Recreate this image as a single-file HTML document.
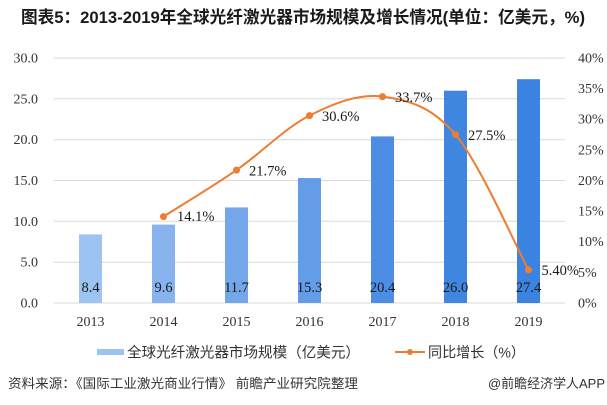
<!DOCTYPE html>
<html><head><meta charset="utf-8"><style>
html,body{margin:0;padding:0;background:#fff;}
svg{display:block;}
</style></head><body>
<svg width="607" height="405" viewBox="0 0 607 405" xmlns="http://www.w3.org/2000/svg">
<rect width="607" height="405" fill="#fff"/>
<text x="21" y="23" font-family="Liberation Sans, Noto Sans CJK SC, sans-serif" font-weight="bold" font-size="17" fill="#1a1a1a" textLength="564" lengthAdjust="spacingAndGlyphs">图表5：2013-2019年全球光纤激光器市场规模及增长情况(单位：亿美元，%)</text>
<g stroke="#d9d9d9" stroke-width="1">
<line x1="54" y1="58" x2="565" y2="58"/>
<line x1="54" y1="98.8" x2="565" y2="98.8"/>
<line x1="54" y1="139.7" x2="565" y2="139.7"/>
<line x1="54" y1="180.5" x2="565" y2="180.5"/>
<line x1="54" y1="221.3" x2="565" y2="221.3"/>
<line x1="54" y1="262.2" x2="565" y2="262.2"/>
<line x1="54" y1="303" x2="565" y2="303"/>
</g>
<g font-family="Liberation Serif, serif" font-size="14" fill="#333" text-anchor="end">
<text x="38" y="62.5">30.0</text>
<text x="38" y="103.3">25.0</text>
<text x="38" y="144.2">20.0</text>
<text x="38" y="185">15.0</text>
<text x="38" y="225.8">10.0</text>
<text x="38" y="266.7">5.0</text>
<text x="38" y="307.5">0.0</text>
</g>
<g font-family="Liberation Serif, serif" font-size="14" fill="#333">
<text x="578" y="62.5">40%</text>
<text x="578" y="93.1">35%</text>
<text x="578" y="123.7">30%</text>
<text x="578" y="154.4">25%</text>
<text x="578" y="185">20%</text>
<text x="578" y="215.6">15%</text>
<text x="578" y="246.2">10%</text>
<text x="578" y="276.9">5%</text>
<text x="578" y="307.5">0%</text>
</g>
<rect x="79" y="234.4" width="23" height="68.6" fill="#9dc3f3"/>
<rect x="152" y="224.6" width="23" height="78.4" fill="#88b3ee"/>
<rect x="225" y="207.45" width="23" height="95.55" fill="#74a6ea"/>
<rect x="298" y="178.05" width="23" height="124.95" fill="#639ce7"/>
<rect x="371" y="136.4" width="23" height="166.6" fill="#4d8ee4"/>
<rect x="444" y="90.7" width="23" height="212.3" fill="#3f86e1"/>
<rect x="517" y="79.2" width="23" height="223.8" fill="#3b83e0"/>
<g font-family="Liberation Serif, serif" font-size="14.5" fill="#1a1a1a" text-anchor="middle">
<text x="90.5" y="292">8.4</text>
<text x="163.5" y="292">9.6</text>
<text x="236.5" y="292">11.7</text>
<text x="309.5" y="292">15.3</text>
<text x="382.5" y="292">20.4</text>
<text x="455.5" y="292">26.0</text>
<text x="528.5" y="292">27.4</text>
</g>
<g font-family="Liberation Serif, serif" font-size="14" fill="#333" text-anchor="middle">
<text x="90.5" y="326">2013</text>
<text x="163.5" y="326">2014</text>
<text x="236.5" y="326">2015</text>
<text x="309.5" y="326">2016</text>
<text x="382.5" y="326">2017</text>
<text x="455.5" y="326">2018</text>
<text x="528.5" y="326">2019</text>
</g>
<path d="M163.5,216.6 C175.67,208.85 212.17,186.93 236.5,170.1 C260.83,153.27 285.17,127.85 309.5,115.6 C333.83,103.35 358.17,93.43 382.5,96.6 C406.83,99.77 431.17,105.72 455.5,134.6 C479.83,163.48 516.33,247.35 528.5,269.9" fill="none" stroke="#ed7d31" stroke-width="2"/>
<g fill="#ed7d31">
<circle cx="163.5" cy="216.6" r="3.5"/>
<circle cx="236.5" cy="170.1" r="3.5"/>
<circle cx="309.5" cy="115.6" r="3.5"/>
<circle cx="382.5" cy="96.6" r="3.5"/>
<circle cx="455.5" cy="134.6" r="3.5"/>
<circle cx="528.5" cy="269.9" r="3.5"/>
</g>
<g font-family="Liberation Serif, serif" font-size="14.5" fill="#1a1a1a">
<text x="177" y="221">14.1%</text>
<text x="249" y="175.5">21.7%</text>
<text x="322" y="121">30.6%</text>
<text x="395" y="102">33.7%</text>
<text x="468" y="140">27.5%</text>
<text x="541.5" y="275">5.40%</text>
</g>
<rect x="97" y="349" width="27" height="6" fill="#9dc3f3"/>
<text x="127" y="357.5" font-family="Liberation Sans, Noto Sans CJK SC, sans-serif" font-size="14.5" fill="#333" textLength="233" lengthAdjust="spacingAndGlyphs">全球光纤激光器市场规模（亿美元）</text>
<line x1="395" y1="352" x2="425" y2="352" stroke="#ed7d31" stroke-width="2"/>
<circle cx="410" cy="352" r="3" fill="#ed7d31"/>
<text x="428" y="357.5" font-family="Liberation Sans, Noto Sans CJK SC, sans-serif" font-size="14.5" fill="#333" textLength="97" lengthAdjust="spacingAndGlyphs">同比增长（%）</text>
<text x="8" y="388" font-family="Liberation Sans, Noto Sans CJK SC, sans-serif" font-size="13" fill="#333" textLength="350" lengthAdjust="spacingAndGlyphs">资料来源：《国际工业激光商业行情》 前瞻产业研究院整理</text>
<text x="488" y="388" font-family="Liberation Sans, Noto Sans CJK SC, sans-serif" font-size="13" fill="#333" textLength="117" lengthAdjust="spacingAndGlyphs">@前瞻经济学人APP</text>
</svg>
</body></html>
